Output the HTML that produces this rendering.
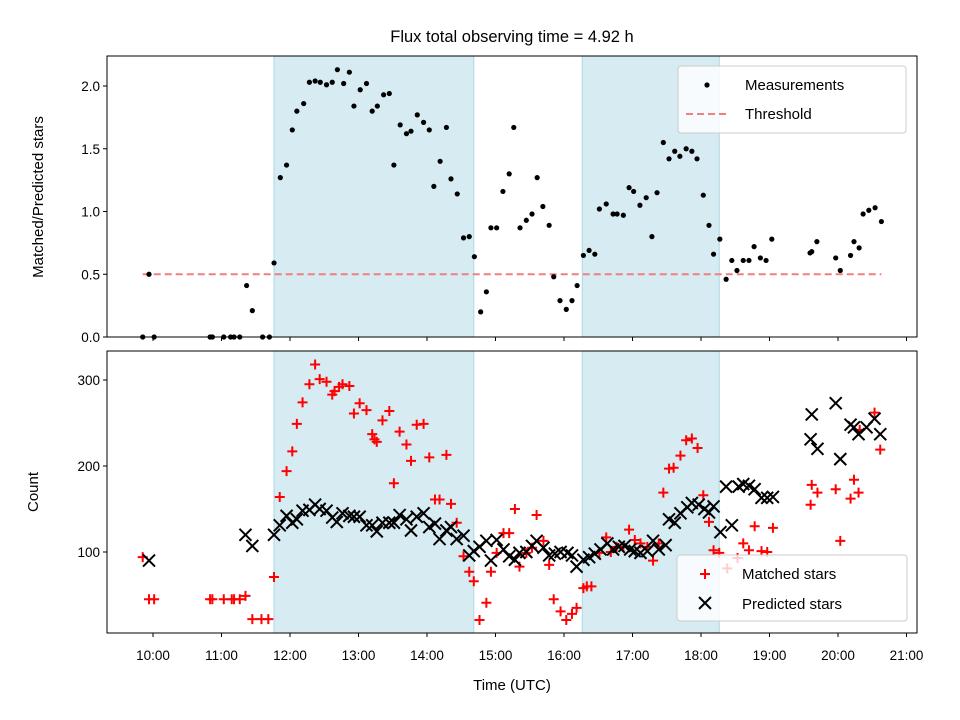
<!DOCTYPE html>
<html><head><meta charset="utf-8"><style>
body{margin:0;background:#fff;}
svg{display:block;font-family:"Liberation Sans","DejaVu Sans",sans-serif;}
</style></head><body>
<svg id="chart" width="960" height="720" viewBox="0 0 960 720" xmlns="http://www.w3.org/2000/svg"></svg>
<script>
// minutes after 10:00 UTC
const ratioTimes=[-9,-3.5,1,50,52,62,68,71,76,82,87,96,102,106,111.5,117,122,126,132,137,142,146.5,152,157,161.5,167,172,176,181.5,187,192,196.5,202,207,211,216.5,222,226,231.5,237,242,246,251.5,257,261,266.5,272,277,281.5,287,292,296,301,306.5,312,316,321.5,327,332,336.5,341.5,347,351,356.5,362,367,371.5,377,382,387,391,397,403,406.5,412,417,421,426.5,432,437,441.5,447,452,457,461.5,467,472,476.5,482,487,491,496.5,502,507,511.5,517,522,526.5,532,537,542,575.5,577,581.5,598,602,611,614,618.5,622,627,632.5,638];
const ratioValues=[0,0.5,0,0,0,0,0,0,0,0.41,0.21,0,0,0.59,1.27,1.37,1.65,1.80,1.86,2.03,2.04,2.03,2.01,2.03,2.13,2.02,2.11,1.84,1.97,2.02,1.80,1.84,1.93,1.94,1.37,1.69,1.62,1.64,1.77,1.71,1.65,1.20,1.40,1.67,1.26,1.14,0.79,0.80,0.64,0.20,0.36,0.87,0.87,1.16,1.30,1.67,0.87,0.93,0.98,1.27,1.04,0.89,0.48,0.29,0.22,0.29,0.41,0.65,0.69,0.66,1.02,1.06,0.98,0.98,0.97,1.19,1.16,1.05,1.11,0.80,1.15,1.55,1.42,1.48,1.44,1.50,1.48,1.42,1.13,0.89,0.66,0.78,0.46,0.61,0.53,0.61,0.61,0.72,0.63,0.61,0.78,0.67,0.68,0.76,0.63,0.53,0.65,0.76,0.71,0.98,1.01,1.03,0.92];
const threshold=0.5;
const thresholdRange=[-9,638];
const shadeRanges=[[106,281],[376,496]];
const matchedTimes=[-9,-3.5,1,50,52,62,69,71,76,81,87,95,101,106,111,117,122,126,131,137,142,146,152,157,159,163,166,172,176,181,187,192,194,196,201,207,211,216,222,226,231,237,242,247,251,257,261,266,272,277,281,286,292,296,301,307,312,317,321,327,332,336,342,347,351,357,362,367,371,377,380,384,391,397,401,406,412,417,422,427,433,438,443,447,452,456,462,467,472,477,482,487,491,496,503,512,517,522,527,533,538,543,576,577,582,598,602,611,614,618,619,632,637];
const matchedValues=[94,45,45,45,45,45,45,45,45,49,22,22,22,71,164,194,217,249,274,295,318,301,298,283,287,292,295,293,261,273,265,237,231,228,253,264,180,240,225,206,248,249,210,161,161,213,156,134,95,77,66,21,41,77,99,122,122,150,83,99,105,143,113,85,45,31,21,28,35,58,60,60,99,117,100,106,106,126,114,110,106,90,110,169,197,198,212,230,232,221,166,135,102,99,81,93,110,102,130,101,100,128,155,178,169,173,113,162,184,169,242,262,219];
const predTimes=[-3.5,81,87,106,111,117,122,126,131,137,142,146,152,157,161,166,172,176,181,187,192,196,201,207,211,216,222,226,231,237,242,247,251,257,261,266,272,277,281,286,292,296,301,307,312,317,321,327,332,336,342,347,352,357,363,367,371,377,382,387,392,398,403,408,413,418,422,427,433,438,443,449,452,457,462,468,472,478,483,487,491,497,502,507,513,517,522,527,533,538,543,576,577,582,598,602,611,614,618,625,632,637];
const predValues=[90,120,107,120,131,142,134,138,148,149,155,150,148,140,135,145,142,141,141,131,131,124,134,134,134,143,138,125,141,145,129,133,115,125,129,115,119,96,101,106,113,90,114,103,95,91,99,100,107,113,105,96,98,100,99,96,83,91,94,98,103,110,103,106,107,103,101,99,101,113,103,108,138,134,145,152,157,155,150,146,153,123,176,131,176,179,177,173,163,163,164,231,260,220,273,208,248,245,237,245,255,237];
const xTickLabels=["10:00","11:00","12:00","13:00","14:00","15:00","16:00","17:00","18:00","19:00","20:00","21:00"];
const topTicks=[0,0.5,1.0,1.5,2.0];
const bottomTicks=[100,200,300];

const NS="http://www.w3.org/2000/svg";
const svg=document.getElementById('chart');
const L=107,R=917,T1=56,B1=337,T2=351,B2=633;
const X=m=>153+m*68.5/60;
const Y1=v=>337-v*125.5;
const Y2=c=>552-(c-100)*0.86;
function mk(tag,attrs,parent){const e=document.createElementNS(NS,tag);for(const k in attrs)e.setAttribute(k,attrs[k]);(parent||svg).appendChild(e);return e;}
function txt(s,attrs,parent){const e=mk('text',attrs,parent);e.textContent=s;return e;}

const title=txt("Flux total observing time = 4.92 h",{x:512,y:42,'text-anchor':'middle','font-size':16.5,fill:'#000'});



function panel(T,B,name){
  const g=mk('g',{});
  
  
  shadeRanges.forEach(r=>{
    const s=mk('rect',{x:X(r[0]),y:T,width:X(r[1])-X(r[0]),height:B-T,fill:'#add8e6','fill-opacity':0.5,stroke:'#add8e6','stroke-width':1},g);
    
    
  });
  return g;
}
function frame(T,B,g){
  const f=mk('rect',{x:L,y:T,width:R-L,height:B-T,fill:'none',stroke:'#000','stroke-width':1},g);
  
  
}
// TOP PANEL
const gTop=panel(T1,B1,'ratio-panel');
const th=mk('line',{x1:X(thresholdRange[0]),x2:X(thresholdRange[1]),y1:Y1(threshold),y2:Y1(threshold),stroke:'#f08080','stroke-width':2,'stroke-dasharray':'7,4'},gTop);


ratioTimes.forEach((t,i)=>{
  const c=mk('circle',{cx:X(t),cy:Y1(ratioValues[i]),r:2.6,fill:'#000'},gTop);
  
  
});
frame(T1,B1,gTop);
topTicks.forEach(v=>{
  mk('line',{x1:L-4,x2:L,y1:Y1(v),y2:Y1(v),stroke:'#000'},gTop);
  const t=txt(v.toFixed(1),{x:L-7,y:Y1(v)+5,'text-anchor':'end','font-size':13.5},gTop);
  
  
});
xTickLabels.forEach((s,i)=>{mk('line',{x1:X(i*60),x2:X(i*60),y1:B1,y2:B1+4,stroke:'#000'},gTop);});
const yl1=txt("Matched/Predicted stars",{x:0,y:0,'text-anchor':'middle','font-size':15,transform:'translate(43,197) rotate(-90)'});



// BOTTOM PANEL
const gBot=panel(T2,B2,'count-panel');
matchedTimes.forEach((t,i)=>{
  const x=X(t),y=Y2(matchedValues[i]);
  const p=mk('path',{d:`M${x-5},${y}H${x+5}M${x},${y-5}V${y+5}`,stroke:'#ff0000','stroke-width':2,fill:'none'},gBot);
  
  
});
predTimes.forEach((t,i)=>{
  const x=X(t),y=Y2(predValues[i]);
  const p=mk('path',{d:`M${x-6},${y-6}L${x+6},${y+6}M${x-6},${y+6}L${x+6},${y-6}`,stroke:'#000','stroke-width':2,fill:'none'},gBot);
  
  
});
frame(T2,B2,gBot);
bottomTicks.forEach(v=>{
  mk('line',{x1:L-4,x2:L,y1:Y2(v),y2:Y2(v),stroke:'#000'},gBot);
  const t=txt(String(v),{x:L-7,y:Y2(v)+5,'text-anchor':'end','font-size':13.5},gBot);
  
  
});
xTickLabels.forEach((s,i)=>{
  mk('line',{x1:X(i*60),x2:X(i*60),y1:B2,y2:B2+4,stroke:'#000'},gBot);
  const t=txt(s,{x:X(i*60),y:B2+27,'text-anchor':'middle','font-size':13.5},gBot);
  
  
});
const yl2=txt("Count",{x:0,y:0,'text-anchor':'middle','font-size':15,transform:'translate(38,492) rotate(-90)'});


const xl=txt("Time (UTC)",{x:512,y:690,'text-anchor':'middle','font-size':15});



// LEGENDS
const lg1=mk('g',{});


mk('rect',{x:678,y:66,width:228,height:67,rx:3,fill:'#fff','fill-opacity':0.8,stroke:'#ccc'},lg1);
mk('circle',{cx:707,cy:85,r:2.6,fill:'#000'},lg1);
txt("Measurements",{x:745,y:90,'font-size':15},lg1);
mk('line',{x1:686,x2:728,y1:114,y2:114,stroke:'#f08080','stroke-width':2,'stroke-dasharray':'7,4'},lg1);
txt("Threshold",{x:745,y:119,'font-size':15},lg1);

const lg2=mk('g',{});


mk('rect',{x:677,y:555,width:230,height:66,rx:3,fill:'#fff','fill-opacity':0.8,stroke:'#ccc'},lg2);
mk('path',{d:'M700,574H710M705,569V579',stroke:'#ff0000','stroke-width':2,fill:'none'},lg2);
txt("Matched stars",{x:742,y:579,'font-size':15},lg2);
mk('path',{d:'M699,597L711,609M699,609L711,597',stroke:'#000','stroke-width':2,fill:'none'},lg2);
txt("Predicted stars",{x:742,y:609,'font-size':15},lg2);
</script>
</body></html>
